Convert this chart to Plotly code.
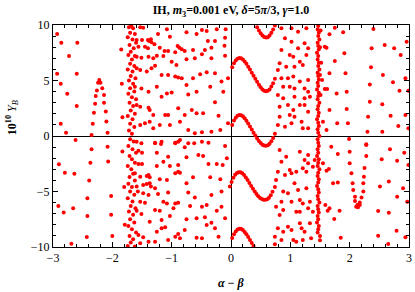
import plotly.graph_objects as go

# ---------------- data (alpha - beta, 10^10 Y_B) ----------------
# left sparse region
left_x = [-2.93,-2.86,-2.59,-2.73,-2.93,-2.60,-2.87,-2.76,-2.60,-2.87,-2.78,-2.62,-2.35,-2.08,
          -1.85,-1.84,-1.83,-2.35,-2.08,-1.83,-2.90,-2.37,-2.07,-2.80,-2.64,-2.39,-1.80,-2.42,
          -2.02,-2.91,-2.82,-2.66,-2.42,-2.02,-1.79,-2.43,-2.00,-2.69]
left_y = [9.2,8.4,8.4,7.2,5.6,5.6,4.7,3.8,2.7,1.1,0.3,-0.36,0.1,0.3,
          7.8,4.7,1.7,-1.2,-0.96,-1.4,-2.55,-2.4,-2.3,-3.3,-3.4,-4.0,-4.6,-5.6,
          -5.4,-6.3,-6.9,-6.5,-7.2,-7.1,-8.0,-9.1,-9.0,-9.7]

# peak near alpha-beta = -2.2
peak_x = [-2.22,-2.24,-2.20,-2.26,-2.17,-2.28,-2.14,-2.29,-2.14,-2.31,-2.11,-2.33,-2.10]
peak_y = [5.05,4.8,4.8,4.1,4.3,3.6,3.7,2.9,3.0,2.1,2.2,1.1,1.3]

# dense band near -1.7
band_x = [-1.72,-1.68,-1.65,-1.70,-1.62,-1.74,-1.66,-1.60,-1.71,-1.64,-1.69,-1.73,-1.62,-1.67,
          -1.70,-1.63,-1.74,-1.66,-1.69,-1.61,-1.72,-1.65,-1.70,-1.63,-1.73,-1.67,-1.60,-1.71,
          -1.65,-1.69,-1.62,-1.74,-1.66,-1.70,-1.63,-1.72,-1.67,
          -1.70,-1.64,-1.73,-1.66,-1.60,-1.71,-1.67,-1.62,-1.74,-1.68,-1.65,-1.71,-1.62,-1.73,
          -1.67,-1.70,-1.63,-1.74,-1.66,-1.69,-1.61,-1.72,-1.65,-1.70,-1.63,-1.73,-1.67,-1.60,
          -1.71,-1.65,-1.69,-1.74,-1.62]
band_y = [9.8,9.9,9.7,9.3,9.2,8.9,8.7,8.4,8.2,7.9,7.6,7.3,7.2,6.9,
          6.5,6.3,6.0,5.8,5.4,5.2,5.0,4.7,4.3,4.0,3.8,3.5,3.3,3.0,
          2.7,2.3,2.0,1.8,1.5,1.1,0.8,0.5,0.2,
          -0.3,-0.5,-0.9,-1.2,-1.5,-1.8,-2.1,-2.4,-2.7,-3.0,-3.4,-3.7,-4.0,-4.3,
          -4.6,-5.0,-5.3,-5.6,-5.9,-6.3,-6.5,-6.8,-7.1,-7.5,-7.8,-8.1,-8.4,-8.7,
          -9.0,-9.3,-9.6,-9.9,-9.95]

# middle scattered region (-1.6 .. 0), upper half
mid_up_x = [-1.53,-1.48,-1.23,-1.08,-1.03,-0.75,-0.58,-0.49,-0.41,-0.24,-0.09,-0.10,-0.27,-0.39,
            -1.59,-1.50,-1.40,-1.38,-1.35,-1.34,-1.56,-1.45,-1.40,-1.29,-1.20,-1.12,-1.06,-0.94,
            -0.90,-0.87,-0.83,-0.78,-0.64,-0.44,-0.33,-0.11,-1.59,-1.51,-1.39,-1.31,-1.25,-1.14,
            -1.00,-0.92,-0.75,-0.61,-0.49,-0.33,-0.10,-1.59,-1.53,-1.42,-1.34,-1.28,-1.17,-1.06,
            -0.94,-0.89,-0.83,-0.75,-0.64,-0.52,-0.41,-0.27,-0.16,-0.05,-1.62,-1.51,-1.39,-1.25,
            -1.17,-1.08,-1.00,-0.72,-0.58,-0.35,-0.27,-0.13,-1.59,-1.53,-1.39,-1.37,-1.31,-1.11,
            -1.06,-0.89,-0.78,-0.66,-0.58,-0.47,-0.21,-1.53,-1.45,-1.37,-1.31,-1.20,-1.03,-0.86,
            -0.72,-0.61,-0.49,-0.33,-0.18,-0.05]
mid_up_y = [9.79,9.76,9.19,9.61,8.95,9.34,9.19,9.55,9.46,9.61,9.61,8.86,8.56,8.56,
            8.65,8.65,8.65,8.56,8.71,8.44,8.05,8.05,7.90,8.26,7.96,7.66,7.66,7.54,
            8.11,7.96,7.81,7.66,7.75,7.75,7.96,8.14,7.15,7.06,7.15,7.00,7.24,7.21,
            6.70,6.40,6.91,7.00,7.36,7.00,7.24,6.10,5.95,5.80,6.10,6.34,5.50,5.50,
            5.35,5.26,5.20,4.59,5.20,5.56,5.74,5.65,4.90,5.20,4.44,4.29,3.99,4.44,
            3.54,3.84,3.93,3.75,3.99,4.44,3.03,3.99,2.79,2.64,2.55,2.34,1.89,1.89,
            1.89,2.49,1.89,2.34,2.04,2.04,1.83,0.99,1.14,1.29,0.69,0.99,0.99,1.29,
            0.54,0.24,0.33,0.39,0.54,1.14]

# middle scattered region, lower half
mid_lo_x = [-1.28,-1.17,-0.94,-0.86,-0.72,-1.59,-1.51,-1.28,-1.18,-0.94,-0.89,-0.78,-0.62,-0.49,
            -0.38,-0.10,-1.56,-1.50,-1.25,-1.06,-1.14,-1.25,-1.03,-0.89,-0.75,-0.55,-0.47,-0.38,
            -0.24,-0.14,-0.07,-1.56,-1.50,-1.62,-1.53,-1.42,-1.39,-1.37,-1.20,-1.08,-0.94,-0.89,
            -0.86,-0.75,-0.64,-0.35,-0.18,-1.59,-1.48,-1.42,-1.37,-1.35,-1.28,-1.57,-1.48,-1.39,
            -1.23,-1.06,-0.72,-0.61,-0.33,-0.16,-0.02,-1.53,-1.45,-1.14,-1.08,-0.94,-0.89,-0.97,
            -0.69,-0.49,-0.41,-0.24,-0.16,-1.59,-1.51,-1.28,-1.20,-1.37,-1.17,-1.03,-0.75,-0.58,
            -0.44,-0.33,-0.10,-1.56,-1.48,-1.25,-1.17,-1.11,-0.94,-0.89,-0.78,-0.58,-0.49,-0.41,
            -0.27,-0.21,-1.53,-1.39,-1.28,-1.06,-0.86]
mid_lo_y = [-0.66,-0.51,-0.66,-0.36,-0.66,-0.51,-0.66,-0.60,-0.72,-0.60,-0.51,-1.02,-0.66,-0.51,
            -0.60,-0.90,-1.32,-1.50,-1.50,-1.86,-2.31,-2.70,-2.70,-2.61,-1.92,-1.71,-1.80,-2.52,
            -2.52,-2.61,-2.01,-2.52,-2.52,-3.36,-3.66,-3.60,-3.51,-3.72,-3.90,-3.96,-3.36,-3.21,
            -3.30,-4.26,-3.72,-3.72,-3.90,-4.56,-4.41,-4.32,-4.26,-4.56,-4.71,-5.00,-5.16,-5.32,
            -5.22,-5.10,-5.10,-5.53,-5.32,-5.00,-4.56,-5.92,-6.01,-5.92,-6.07,-6.07,-6.01,-6.52,
            -6.31,-6.37,-6.22,-6.73,-6.37,-6.73,-7.03,-6.67,-6.73,-7.72,-7.57,-7.21,-7.51,-7.42,
            -7.33,-7.81,-7.42,-8.92,-9.13,-8.62,-8.32,-8.23,-9.07,-8.83,-8.47,-9.16,-9.22,-8.02,
            -8.32,-9.07,-9.67,-9.52,-9.52,-9.37,-9.22]

# oscillating branches for 0 < alpha-beta < 0.75 (read point by point)
c1_x = [0.44,0.47,0.50,0.53,0.56,0.59,0.62,0.65,0.68,0.71,0.74]
c1_y = [9.8,9.5,9.25,9.05,8.93,8.88,8.9,9.05,9.3,9.6,9.95]
c2_x = [0.02,0.05,0.08,0.11,0.14,0.17,0.20,0.23,0.26,0.29,0.32,0.35,0.38,0.41,0.44,0.47,0.50,
        0.53,0.56,0.59,0.62,0.65,0.68,0.71,0.74]
c2_y = [6.2,6.55,6.8,6.95,7.02,7.0,6.9,6.72,6.5,6.25,5.98,5.7,5.42,5.15,4.88,4.62,4.4,
        4.2,4.08,4.03,4.07,4.2,4.45,4.75,5.15]
c3_x = [0.02,0.05,0.08,0.11,0.14,0.17,0.20,0.23,0.26,0.29,0.32,0.35,0.38,0.41,0.44,0.47,0.50,
        0.53,0.56,0.59,0.62,0.65,0.68,0.71,0.74]
c3_y = [1.0,1.4,1.65,1.82,1.9,1.88,1.78,1.6,1.38,1.13,0.86,0.58,0.3,0.04,-0.22,-0.46,-0.64,
        -0.78,-0.85,-0.87,-0.83,-0.7,-0.47,-0.18,0.2]
c4_x = [0.01,0.04,0.07,0.10,0.13,0.16,0.19,0.22,0.25,0.28,0.31,0.34,0.37,0.40,0.43,0.46,0.49,
        0.52,0.55,0.58,0.61,0.64,0.67,0.70,0.74]
c4_y = [-4.15,-3.75,-3.5,-3.33,-3.26,-3.26,-3.35,-3.52,-3.73,-3.97,-4.23,-4.5,-4.76,-5.0,-5.23,
        -5.43,-5.58,-5.68,-5.74,-5.75,-5.7,-5.56,-5.33,-5.03,-4.6]
c5_x = [0.02,0.05,0.08,0.11,0.14,0.17,0.20,0.23,0.26,0.29,0.32,0.35,0.38,0.74]
c5_y = [-9.2,-8.85,-8.6,-8.43,-8.36,-8.36,-8.46,-8.64,-8.86,-9.11,-9.38,-9.65,-9.92,-9.75]

# scattered region 0.75 .. 1.42
r_x = [0.85,0.91,1.02,1.02,1.13,1.13,1.27,1.30,1.24,0.85,0.99,1.05,1.16,1.27,0.82,0.93,1.07,1.21,
       0.79,0.85,0.96,1.05,1.16,1.30,0.88,0.99,1.07,1.24,1.30,0.79,0.88,1.07,1.24,1.33,0.82,0.96,
       1.05,1.16,1.24,1.30,0.82,0.99,1.07,1.19,0.79,0.91,1.02,1.21,1.30,
       0.82,0.93,0.85,1.16,1.24,1.30,1.30,1.41,1.38,0.79,0.99,1.02,0.91,1.10,1.21,1.27,0.76,0.88,
       0.96,1.13,1.07,1.27,0.85,1.02,1.16,1.21,1.33,0.76,0.88,0.82,1.10,1.16,1.30,1.38,0.79,0.88,
       1.02,0.96,1.19,1.24,1.16,1.33,0.74,1.05,1.10,1.21,1.35,0.85]
r_y = [9.7,8.8,9.7,8.5,9.4,7.9,9.7,7.9,8.35,7.75,7.3,7.15,6.7,7.3,6.55,6.25,6.25,6.4,
       5.95,5.2,5.2,5.35,4.9,5.05,4.44,4.44,4.29,4.29,3.99,3.69,3.39,3.54,3.39,3.54,2.64,2.79,
       2.34,2.79,2.79,2.19,1.74,1.89,1.74,1.29,0.99,0.84,1.14,0.69,0.69,
       -1.26,-1.86,-2.31,-1.41,-2.16,-2.46,-1.71,-2.16,-2.76,-3.21,-3.06,-3.36,-3.51,-3.21,-2.91,-3.21,-3.96,-5.0,
       -5.16,-4.86,-4.26,-4.71,-5.92,-5.92,-5.77,-6.07,-5.92,-6.37,-6.67,-7.12,-6.82,-6.82,-6.52,-6.82,-8.32,-8.62,
       -8.47,-8.17,-8.32,-8.62,-7.87,-7.87,-9.07,-9.37,-9.52,-9.37,-9.22,-9.37]

# dense line near 1.47
line_x = [1.47,1.46,1.48,1.47,1.49,1.46,1.47,1.48,1.45,1.47,1.46,1.48,1.47,1.49,1.46,1.47,
          1.48,1.46,1.47,1.45,1.48,1.47,1.46,1.49,1.47,1.46,1.48,1.47,1.45,1.47,1.48,1.46,
          1.47,1.49,1.46,1.47,1.48,1.46,1.47,1.45,1.48,1.47,1.46,1.49,1.47,1.46,1.48,1.47,
          1.45,1.47,1.48,1.46,1.47,1.49,1.46,1.47,1.48,1.46,1.47,1.45,1.48,1.47,1.46,1.50,
          1.51,1.50,1.52,1.50,1.51,1.50]
line_y = [9.9,9.6,9.3,9.0,8.7,8.4,8.1,7.8,7.5,7.2,6.9,6.6,6.3,6.0,5.7,5.4,
          5.1,4.8,4.5,4.2,3.9,3.6,3.3,3.0,2.7,2.4,2.1,1.8,1.5,1.2,0.9,0.6,
          0.3,0.0,-0.3,-0.6,-0.9,-1.2,-1.5,-1.8,-2.1,-2.4,-2.7,-3.0,-3.3,-3.6,-3.9,-4.2,
          -4.5,-4.8,-5.1,-5.4,-5.7,-6.0,-6.3,-6.6,-6.9,-7.2,-7.5,-7.8,-8.1,-8.4,-8.7,-9.0,
          9.5,8.0,6.6,5.5,3.7,-9.4]

# right sparse region 1.5 .. 3
rr_x = [1.66,1.75,1.89,1.58,1.61,1.91,1.75,1.66,1.93,1.535,1.58,1.62,1.78,1.95,2.40,2.37,2.59,2.75,
        2.86,2.96,2.36,2.56,2.73,2.94,2.84,2.99,2.34,2.34,2.55,2.69,2.94,1.66,1.95,2.31,1.55,1.61,
        1.79,1.97,2.30,2.55,2.82,2.99,1.99,2.28,
        1.69,1.80,1.55,1.61,1.65,2.00,2.00,2.03,2.28,2.28,2.25,2.24,2.05,2.06,2.23,2.23,2.09,2.09,
        2.13,2.17,2.11,2.14,2.17,2.20,1.72,1.80,1.59,1.63,1.66,1.83,1.74,1.85,2.48,2.65,2.51,2.66,
        2.48,2.66,2.68,2.80,2.92,2.99,2.90,2.80,2.97,2.79,2.94,2.54]
rr_y = [9.16,9.76,9.34,8.05,7.96,7.45,6.76,5.65,5.65,5.05,4.23,4.23,3.84,3.99,9.64,7.90,8.20,7.90,
        7.30,8.50,6.19,5.50,4.84,5.20,4.08,4.08,4.65,3.09,2.85,1.83,1.89,2.34,2.43,1.74,1.29,0.54,
        1.14,1.14,0.39,0.39,0.90,0.69,-0.27,-0.75,
        -0.96,-1.62,-2.46,-3.12,-2.97,-1.41,-2.46,-3.36,-0.81,-1.80,-2.88,-3.66,-4.26,-4.86,-4.26,-5.01,-5.47,-5.86,
        -6.22,-6.22,-6.37,-6.43,-5.98,-5.53,-4.26,-4.20,-6.22,-6.73,-6.52,-6.73,-7.48,-9.16,-8.98,-9.73,-4.56,-4.11,
        -6.76,-6.91,-1.20,-2.22,-1.50,-2.61,-4.71,-5.47,-5.92,-8.53,-9.13,-2.10]

xs = (left_x + peak_x + band_x + mid_up_x + mid_lo_x + c1_x + c2_x + c3_x + c4_x + c5_x
      + r_x + line_x + rr_x)
ys = (left_y + peak_y + band_y + mid_up_y + mid_lo_y + c1_y + c2_y + c3_y + c4_y + c5_y
      + r_y + line_y + rr_y)

x_ticks = [-3, -2, -1, 0, 1, 2, 3]
y_ticks = [-10, -5, 0, 5, 10]

FONT = "Liberation Serif"


def lab(v):
    return ("−" + str(-v)) if v < 0 else str(v)


fig = go.Figure()
fig.add_trace(go.Scatter(x=xs, y=ys, mode="markers",
                         marker=dict(size=4, color="rgb(255,0,0)", line=dict(width=0)),
                         hoverinfo="skip", showlegend=False, cliponaxis=True))

axis_common = dict(showline=True, linecolor="black", linewidth=1, mirror="allticks",
                   ticks="inside", ticklen=5, tickwidth=1, tickcolor="black",
                   showgrid=False, zeroline=True, zerolinecolor="black", zerolinewidth=1,
                   tickfont=dict(family=FONT, size=12, color="black"))

fig.update_xaxes(range=[-3, 3], tickvals=x_ticks, ticktext=[lab(v) for v in x_ticks],
                 minor=dict(dtick=0.2, ticks="inside", ticklen=3, tickcolor="black", showgrid=False),
                 **axis_common)
fig.update_yaxes(range=[-10, 10], tickvals=y_ticks, ticktext=[lab(v) for v in y_ticks],
                 minor=dict(dtick=1, ticks="inside", ticklen=3, tickcolor="black", showgrid=False),
                 **axis_common)

fig.update_layout(
    width=415, height=292,
    margin=dict(l=53, r=6, t=25, b=45, autoexpand=False),
    paper_bgcolor="white", plot_bgcolor="white",
    font=dict(family=FONT, color="black"),
    hovermode=False,
    title=dict(text="<b>IH, <i>m</i><sub>3</sub>=0.001 eV, <i>δ</i>=5<i>π</i>/3, <i>γ</i>=1.0</b>",
               x=0.5, xref="paper", xanchor="center", y=1 - 10 / 292, yref="container",
               yanchor="middle", font=dict(family=FONT, size=12, color="black")),
    annotations=[
        dict(text="<b>10<sup>10</sup></b> <i>Y<sub>B</sub></i>", xref="paper", yref="paper",
             x=-0.115, y=0.58, textangle=-90, showarrow=False, xanchor="center", yanchor="middle",
             font=dict(family=FONT, size=12, color="black")),
        dict(text="<b><i>α</i> − <i>β</i></b>", xref="paper", yref="paper",
             x=0.5, y=-0.162, showarrow=False, xanchor="center", yanchor="middle",
             font=dict(family=FONT, size=12, color="black")),
    ],
)

fig.write_html("out.html", config={"displayModeBar": False, "staticPlot": True},
               post_script="document.body.style.margin='0';document.body.style.overflow='hidden';")
